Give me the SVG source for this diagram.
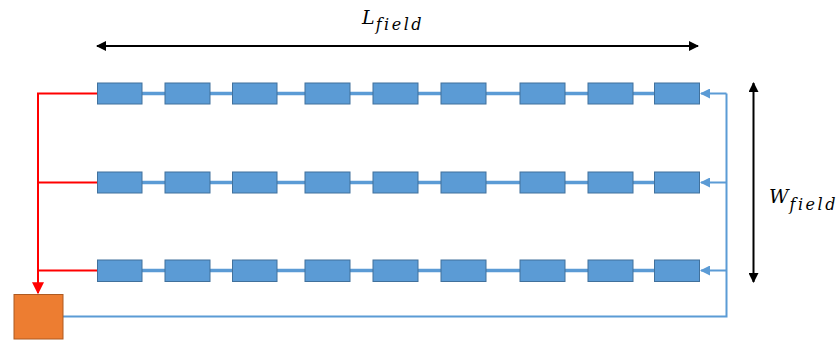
<svg xmlns="http://www.w3.org/2000/svg" width="840" height="342" viewBox="0 0 840 342">
<defs>
<style>
.mod{fill:#5B9BD5;stroke:#41719C;stroke-width:1}
.link{stroke:#5B9BD5;stroke-width:3.5;fill:none}
.ret{stroke:#5B9BD5;stroke-width:2;fill:none}
.sup{stroke:#FF0000;stroke-width:2;fill:none}
.dim{stroke:#000;stroke-width:2;fill:none}
.lbl{font-family:"DejaVu Serif","Liberation Serif",serif;font-style:italic;fill:#000}
.sub{font-size:16px;letter-spacing:2.5px}
</style>
<marker id="ab" viewBox="0 0 10 10" refX="9" refY="5" markerWidth="5" markerHeight="5" orient="auto-start-reverse" markerUnits="strokeWidth"><path d="M0,0 L10,5 L0,10 z" fill="#5B9BD5"/></marker>
<marker id="ar" viewBox="0 0 10 10" refX="9" refY="5" markerWidth="6" markerHeight="6" orient="auto" markerUnits="strokeWidth"><path d="M0,0 L10,5 L0,10 z" fill="#FF0000"/></marker>
<marker id="ak" viewBox="0 0 10 10" refX="9" refY="5" markerWidth="5" markerHeight="5" orient="auto-start-reverse" markerUnits="strokeWidth"><path d="M0,0 L10,5 L0,10 z" fill="#000"/></marker>
</defs>
<rect width="840" height="342" fill="#fff"/>
<g id="connectors">
<line class="link" x1="142" y1="93.5" x2="655" y2="93.5"/>
<line class="link" x1="142" y1="182.5" x2="655" y2="182.5"/>
<line class="link" x1="142" y1="270.5" x2="655" y2="270.5"/>
<path class="sup" d="M97,93.5 H38 V293" marker-end="url(#ar)"/>
<line class="sup" x1="38" y1="182.5" x2="97" y2="182.5"/>
<line class="sup" x1="38" y1="270.5" x2="97" y2="270.5"/>
<path class="ret" d="M63,316.5 H726.5 V93.5"/>
<line class="ret" x1="726.5" y1="93.5" x2="701" y2="93.5" marker-end="url(#ab)"/>
<line class="ret" x1="726.5" y1="182.5" x2="701" y2="182.5" marker-end="url(#ab)"/>
<line class="ret" x1="726.5" y1="270.5" x2="701" y2="270.5" marker-end="url(#ab)"/>
<line class="dim" x1="97" y1="46" x2="698" y2="46" marker-start="url(#ak)" marker-end="url(#ak)"/>
<line class="dim" x1="753.5" y1="83" x2="753.5" y2="282" marker-start="url(#ak)" marker-end="url(#ak)"/>
</g>
<g id="row1">
<rect class="mod" x="97.5" y="83" width="44.5" height="21"/>
<rect class="mod" x="165" y="83" width="45" height="21"/>
<rect class="mod" x="232.5" y="83" width="44.5" height="21"/>
<rect class="mod" x="305" y="83" width="45" height="21"/>
<rect class="mod" x="373" y="83" width="45" height="21"/>
<rect class="mod" x="441" y="83" width="45" height="21"/>
<rect class="mod" x="520" y="83" width="45" height="21"/>
<rect class="mod" x="588" y="83" width="45" height="21"/>
<rect class="mod" x="654.5" y="83" width="45" height="21"/>
</g>
<g id="row2">
<rect class="mod" x="97.5" y="172" width="44.5" height="21"/>
<rect class="mod" x="165" y="172" width="45" height="21"/>
<rect class="mod" x="232.5" y="172" width="44.5" height="21"/>
<rect class="mod" x="305" y="172" width="45" height="21"/>
<rect class="mod" x="373" y="172" width="45" height="21"/>
<rect class="mod" x="441" y="172" width="45" height="21"/>
<rect class="mod" x="520" y="172" width="45" height="21"/>
<rect class="mod" x="588" y="172" width="45" height="21"/>
<rect class="mod" x="654.5" y="172" width="45" height="21"/>
</g>
<g id="row3">
<rect class="mod" x="97.5" y="260" width="44.5" height="21.5"/>
<rect class="mod" x="165" y="260" width="45" height="21.5"/>
<rect class="mod" x="232.5" y="260" width="44.5" height="21.5"/>
<rect class="mod" x="305" y="260" width="45" height="21.5"/>
<rect class="mod" x="373" y="260" width="45" height="21.5"/>
<rect class="mod" x="441" y="260" width="45" height="21.5"/>
<rect class="mod" x="520" y="260" width="45" height="21.5"/>
<rect class="mod" x="588" y="260" width="45" height="21.5"/>
<rect class="mod" x="654.5" y="260" width="45" height="21.5"/>
</g>
<g id="pump">
<rect x="14" y="294.5" width="49" height="44.5" fill="#ED7D31" stroke="#AE5A21" stroke-width="1"/>
</g>
<g id="label-L">
<text class="lbl" x="362" y="23.5" font-size="19">L<tspan class="sub" dx="1" dy="6.5">field</tspan></text>
</g>
<g id="label-W">
<text class="lbl" x="769" y="203" font-size="19">W<tspan class="sub" dx="1" dy="7">field</tspan></text>
</g>
</svg>
